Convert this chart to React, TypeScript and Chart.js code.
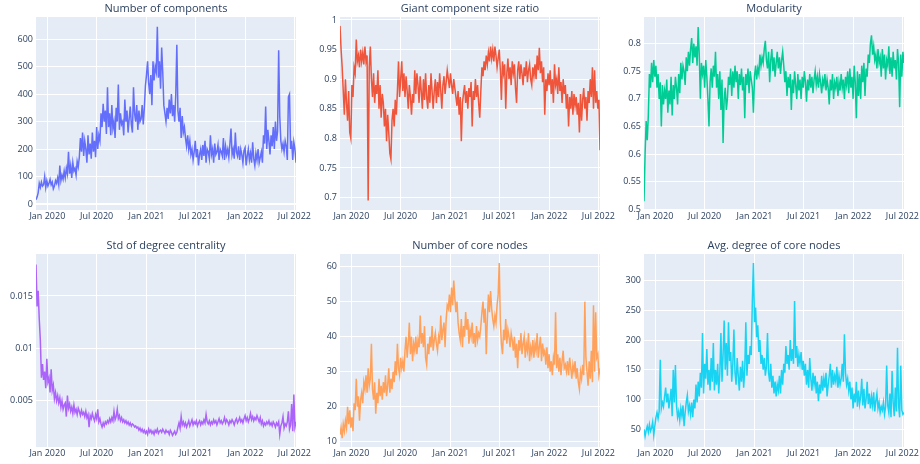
import React, { useEffect, useRef } from "react";
import { Chart, registerables } from "chart.js";

Chart.register(...registerables);

// x positions: days counted from 1 Jan 2020; one sample every 4 days from 20 Nov 2019
const START_DAY = -42;
const STEP_DAYS = 4;
const X_MIN = -42;
const X_MAX = 918;
const xTickDays = [0, 182, 366, 547, 731, 912];
const xTickLabels = ["Jan 2020", "Jul 2020", "Jan 2021", "Jul 2021", "Jan 2022", "Jul 2022"];

const numComponents = [
  15, 25, 40, 75, 60, 80, 65, 70, 100, 60,
  85, 65, 75, 90, 70, 80, 55, 65, 85, 75,
  95, 70, 140, 85, 105, 90, 120, 95, 130, 110,
  190, 110, 140, 95, 150, 120, 130, 105, 155, 135,
  170, 240, 190, 260, 175, 230, 200, 150, 250, 180,
  220, 165, 260, 190, 230, 170, 280, 200, 250, 230,
  330, 280, 365, 300, 340, 255, 425, 280, 330, 250,
  360, 275, 300, 240, 350, 300, 435, 270, 330, 290,
  300, 250, 380, 300, 340, 260, 310, 355, 290, 260,
  425, 330, 300, 360, 270, 340, 300, 310, 360, 290,
  350, 430, 470, 520, 440, 400, 470, 360, 520, 450,
  500, 480, 645, 460, 520, 420, 570, 480, 360, 330,
  300, 350, 310, 380, 330, 400, 320, 360, 300, 395,
  580, 340, 300, 350, 240, 320, 260, 280, 240, 210,
  250, 200, 230, 180, 200, 160, 190, 230, 170, 200,
  140, 180, 200, 160, 215, 175, 230, 150, 200, 190,
  165, 250, 180, 200, 150, 220, 180, 190, 215, 160,
  200, 190, 175, 240, 160, 210, 180, 200, 170, 220,
  275, 180, 200, 165, 260, 190, 175, 210, 160, 200,
  180, 150, 195, 205, 140, 175, 200, 160, 185, 150,
  225, 165, 140, 185, 160, 200, 150, 170, 190, 150,
  250, 220, 355, 200, 270, 230, 180, 250, 210, 280,
  200, 300, 230, 265, 560, 320, 230, 200, 220, 190,
  230, 210, 160, 390, 400, 200, 230, 160, 225, 200,
  150,
];

const giantRatio = [
  0.99, 0.95, 0.92, 0.88, 0.84, 0.90, 0.86, 0.83, 0.88, 0.81,
  0.80, 0.89, 0.87, 0.92, 0.91, 0.967, 0.93, 0.94, 0.92, 0.95,
  0.93, 0.945, 0.925, 0.955, 0.93, 0.94, 0.695, 0.92, 0.955, 0.90,
  0.87, 0.91, 0.86, 0.89, 0.875, 0.915, 0.85, 0.89, 0.835, 0.875,
  0.86, 0.82, 0.85, 0.795, 0.84, 0.81, 0.775, 0.765, 0.83, 0.85,
  0.82, 0.865, 0.84, 0.88, 0.93, 0.87, 0.90, 0.93, 0.88, 0.91,
  0.87, 0.905, 0.88, 0.85, 0.89, 0.87, 0.84, 0.875, 0.86, 0.915,
  0.875, 0.91, 0.89, 0.86, 0.905, 0.88, 0.85, 0.90, 0.865, 0.91,
  0.87, 0.85, 0.89, 0.86, 0.91, 0.88, 0.85, 0.88, 0.90, 0.86,
  0.895, 0.87, 0.91, 0.88, 0.85, 0.89, 0.905, 0.875, 0.895, 0.915,
  0.90, 0.885, 0.91, 0.89, 0.875, 0.90, 0.885, 0.87, 0.855, 0.88,
  0.84, 0.87, 0.795, 0.86, 0.875, 0.89, 0.86, 0.88, 0.85, 0.885,
  0.87, 0.895, 0.82, 0.88, 0.865, 0.90, 0.87, 0.89, 0.86, 0.835,
  0.88, 0.92, 0.905, 0.93, 0.915, 0.94, 0.925, 0.945, 0.93, 0.955,
  0.935, 0.95, 0.93, 0.955, 0.94, 0.92, 0.935, 0.95, 0.915, 0.865,
  0.93, 0.91, 0.925, 0.85, 0.91, 0.935, 0.90, 0.92, 0.89, 0.93,
  0.91, 0.925, 0.885, 0.86, 0.915, 0.93, 0.90, 0.925, 0.91, 0.89,
  0.92, 0.905, 0.93, 0.895, 0.915, 0.925, 0.90, 0.89, 0.92, 0.905,
  0.925, 0.90, 0.94, 0.915, 0.953, 0.91, 0.93, 0.895, 0.92, 0.84,
  0.90, 0.88, 0.91, 0.89, 0.915, 0.875, 0.90, 0.86, 0.925, 0.89,
  0.90, 0.875, 0.92, 0.88, 0.895, 0.86, 0.90, 0.875, 0.89, 0.85,
  0.875, 0.82, 0.87, 0.85, 0.88, 0.84, 0.875, 0.855, 0.87, 0.84,
  0.86, 0.81, 0.875, 0.83, 0.865, 0.885, 0.85, 0.87, 0.83, 0.88,
  0.86, 0.90, 0.87, 0.92, 0.85, 0.915, 0.86, 0.88, 0.85, 0.865,
  0.78,
];

const modularity = [
  0.515, 0.60, 0.66, 0.625, 0.67, 0.745, 0.72, 0.765, 0.73, 0.77,
  0.74, 0.76, 0.72, 0.745, 0.70, 0.73, 0.65, 0.725, 0.69, 0.715,
  0.70, 0.735, 0.675, 0.715, 0.69, 0.74, 0.67, 0.725, 0.70, 0.74,
  0.72, 0.69, 0.745, 0.71, 0.765, 0.735, 0.76, 0.75, 0.725, 0.775,
  0.75, 0.785, 0.76, 0.79, 0.81, 0.765, 0.80, 0.775, 0.795, 0.76,
  0.83, 0.78, 0.70, 0.765, 0.745, 0.76, 0.72, 0.77, 0.74, 0.70,
  0.65, 0.73, 0.755, 0.72, 0.76, 0.74, 0.785, 0.72, 0.745, 0.70,
  0.75, 0.68, 0.735, 0.62, 0.70, 0.72, 0.68, 0.70, 0.74, 0.725,
  0.755, 0.705, 0.75, 0.72, 0.76, 0.73, 0.75, 0.70, 0.745, 0.725,
  0.755, 0.715, 0.74, 0.665, 0.745, 0.725, 0.755, 0.71, 0.75, 0.735,
  0.72, 0.675, 0.74, 0.76, 0.735, 0.755, 0.745, 0.78, 0.76, 0.775,
  0.765, 0.79, 0.805, 0.77, 0.755, 0.785, 0.73, 0.77, 0.79, 0.75,
  0.775, 0.74, 0.765, 0.785, 0.755, 0.775, 0.745, 0.77, 0.785, 0.76,
  0.73, 0.75, 0.705, 0.74, 0.72, 0.745, 0.68, 0.735, 0.71, 0.75,
  0.725, 0.70, 0.745, 0.715, 0.735, 0.70, 0.74, 0.72, 0.75, 0.73,
  0.695, 0.735, 0.715, 0.745, 0.72, 0.74, 0.71, 0.735, 0.75, 0.725,
  0.74, 0.72, 0.745, 0.73, 0.71, 0.735, 0.725, 0.745, 0.715, 0.735,
  0.72, 0.69, 0.735, 0.715, 0.745, 0.70, 0.73, 0.72, 0.74, 0.705,
  0.73, 0.715, 0.745, 0.72, 0.735, 0.70, 0.74, 0.725, 0.75, 0.71,
  0.755, 0.72, 0.74, 0.70, 0.76, 0.73, 0.665, 0.75, 0.705, 0.745,
  0.70, 0.76, 0.73, 0.765, 0.705, 0.755, 0.74, 0.78, 0.765, 0.80,
  0.815, 0.78, 0.795, 0.77, 0.78, 0.755, 0.79, 0.765, 0.775, 0.74,
  0.79, 0.755, 0.78, 0.735, 0.77, 0.76, 0.795, 0.745, 0.775, 0.74,
  0.785, 0.755, 0.77, 0.735, 0.79, 0.765, 0.685, 0.78, 0.74, 0.785,
  0.765,
];

const stdDegree = [
  0.0180, 0.0140, 0.0155, 0.0128, 0.0108, 0.0072, 0.0085, 0.0070, 0.0078, 0.0062,
  0.0090, 0.0068, 0.0072, 0.0058, 0.0080, 0.0060, 0.0065, 0.0052, 0.0058, 0.0050,
  0.0055, 0.0048, 0.0053, 0.0044, 0.0050, 0.0042, 0.0046, 0.0048, 0.0035, 0.0055,
  0.0043, 0.0047, 0.0040, 0.0044, 0.0038, 0.0046, 0.0039, 0.0042, 0.0037, 0.0043,
  0.0040, 0.0036, 0.0041, 0.0037, 0.0039, 0.0035, 0.0040, 0.0034, 0.0037, 0.0025,
  0.0036, 0.0033, 0.0038, 0.0034, 0.0031, 0.0037, 0.0033, 0.0042, 0.0030, 0.0033,
  0.0028, 0.0025, 0.0029, 0.0026, 0.0030, 0.0028, 0.0031, 0.0029, 0.0033, 0.0030,
  0.0034, 0.0031, 0.0040, 0.0032, 0.0035, 0.0042, 0.0033, 0.0036, 0.0031, 0.0034,
  0.0030, 0.0032, 0.0029, 0.0031, 0.0028, 0.0030, 0.0027, 0.0029, 0.0026, 0.0028,
  0.0027, 0.0025, 0.0026, 0.0024, 0.0025, 0.0022, 0.0024, 0.0021, 0.0023, 0.0020,
  0.0022, 0.0019, 0.0021, 0.0018, 0.0023, 0.0020, 0.0022, 0.0019, 0.0021, 0.0018,
  0.0022, 0.0020, 0.0023, 0.0019, 0.0021, 0.0022, 0.0020, 0.0023, 0.0021, 0.0019,
  0.0022, 0.0020, 0.0021, 0.0018, 0.0022, 0.0020, 0.0017, 0.0019, 0.0021, 0.0018,
  0.0020, 0.0025, 0.0029, 0.0024, 0.0035, 0.0027, 0.0030, 0.0026, 0.0029, 0.0025,
  0.0028, 0.0031, 0.0026, 0.0029, 0.0032, 0.0027, 0.0030, 0.0028, 0.0031, 0.0026,
  0.0029, 0.0031, 0.0027, 0.0030, 0.0028, 0.0032, 0.0029, 0.0037, 0.0030, 0.0028,
  0.0031, 0.0027, 0.0030, 0.0028, 0.0032, 0.0029, 0.0031, 0.0027, 0.0030, 0.0033,
  0.0029, 0.0031, 0.0028, 0.0030, 0.0034, 0.0029, 0.0032, 0.0030, 0.0027, 0.0031,
  0.0029, 0.0032, 0.0030, 0.0027, 0.0031, 0.0033, 0.0029, 0.0031, 0.0034, 0.0030,
  0.0032, 0.0029, 0.0033, 0.0036, 0.0031, 0.0034, 0.0030, 0.0033, 0.0038, 0.0032,
  0.0035, 0.0031, 0.0034, 0.0032, 0.0036, 0.0033, 0.0030, 0.0034, 0.0028, 0.0031,
  0.0026, 0.0029, 0.0027, 0.0030, 0.0028, 0.0031, 0.0027, 0.0029, 0.0026, 0.0030,
  0.0028, 0.0025, 0.0029, 0.0027, 0.0030, 0.0018, 0.0026, 0.0029, 0.0035, 0.0024,
  0.0028, 0.0026, 0.0030, 0.0040, 0.0023, 0.0027, 0.0047, 0.0021, 0.0056, 0.0025,
  0.0030,
];

const coreNodes = [
  12, 14, 11, 15, 13, 16, 14, 20, 15, 19,
  14, 17, 13, 21, 19, 28, 20, 23, 16, 22,
  24, 21, 27, 25, 29, 24, 31, 26, 28, 38,
  25, 22, 27, 18, 24, 21, 28, 23, 26, 22,
  27, 24, 29, 23, 26, 31, 24, 28, 25, 30,
  27, 33, 29, 38, 31, 29, 34, 31, 33, 30,
  36, 40, 34, 38, 44, 35, 40, 33, 38, 36,
  40, 35, 39, 37, 46, 38, 41, 37, 43, 34,
  32, 38, 35, 40, 37, 43, 36, 39, 41, 38,
  36, 40, 38, 46, 39, 42, 44, 37, 45, 49,
  48, 52, 47, 54, 49, 56, 51, 47, 50, 44,
  41, 39, 45, 37, 43, 40, 47, 42, 45, 38,
  42, 40, 44, 38, 41, 37, 43, 39, 41, 40,
  43, 47, 50, 44, 48, 35, 45, 52, 47, 53,
  48, 45, 43, 46, 44, 49, 52, 61, 44, 38,
  35, 42, 39, 45, 38, 42, 40, 37, 41, 39,
  36, 40, 34, 38, 31, 39, 36, 41, 35, 38,
  40, 34, 38, 36, 41, 33, 37, 35, 39, 34,
  38, 36, 41, 34, 37, 40, 33, 38, 35, 36,
  32, 37, 31, 35, 30, 33, 29, 34, 32, 47,
  31, 35, 30, 34, 29, 33, 36, 31, 32, 30,
  33, 29, 34, 31, 28, 32, 30, 33, 28, 31,
  27, 25, 30, 28, 32, 29, 50, 34, 30, 26,
  33, 28, 36, 27, 49, 30, 47, 34, 35, 29,
  31,
];

const coreDegree = [
  50, 38, 48, 55, 45, 58, 47, 52, 62, 40,
  55, 70, 78, 68, 80, 167, 85, 95, 88, 105,
  120, 95, 110, 85, 100, 118, 72, 150, 95, 158,
  90, 70, 80, 65, 85, 72, 90, 55, 78, 95,
  107, 80, 90, 75, 95, 70, 100, 85, 125, 95,
  130, 105, 145, 120, 212, 110, 160, 135, 185, 125,
  150, 115, 170, 130, 195, 115, 150, 125, 160, 110,
  145, 212, 130, 175, 233, 150, 195, 140, 230, 165,
  180, 130, 160, 218, 145, 125, 170, 140, 115, 155,
  130, 165, 120, 150, 230, 140, 175, 160, 190, 175,
  265, 330, 230, 255, 205, 225, 180, 200, 160, 175,
  150, 170, 140, 155, 212, 145, 130, 160, 120, 140,
  110, 130, 105, 125, 115, 140, 110, 150, 125, 160,
  145, 190, 160, 175, 150, 200, 165, 185, 160, 266,
  170, 190, 155, 175, 160, 180, 150, 165, 140, 160,
  125, 150, 120, 170, 135, 115, 145, 125, 140, 110,
  130, 97, 125, 110, 140, 115, 135, 120, 145, 105,
  125, 140, 160, 120, 150, 125, 140, 130, 155, 120,
  140, 125, 135, 160, 130, 210, 145, 125, 135, 115,
  130, 100, 120, 85, 110, 95, 130, 88, 115, 92,
  105, 135, 90, 118, 85, 100, 130, 92, 110, 85,
  105, 90, 112, 80, 98, 110, 85, 95, 78, 88,
  82, 95, 75, 88, 157, 90, 78, 110, 70, 148,
  95, 72, 120, 80, 187, 90, 70, 157, 82, 75,
  78,
];

const ticksComponents = [0, 100, 200, 300, 400, 500, 600];
const labelsComponents = ["0", "100", "200", "300", "400", "500", "600"];
const ticksGiant = [0.7, 0.75, 0.8, 0.85, 0.9, 0.95, 1];
const labelsGiant = ["0.7", "0.75", "0.8", "0.85", "0.9", "0.95", "1"];
const ticksModularity = [0.5, 0.55, 0.6, 0.65, 0.7, 0.75, 0.8];
const labelsModularity = ["0.5", "0.55", "0.6", "0.65", "0.7", "0.75", "0.8"];
const ticksStd = [0.005, 0.01, 0.015];
const labelsStd = ["0.005", "0.01", "0.015"];
const ticksCoreNodes = [10, 20, 30, 40, 50, 60];
const labelsCoreNodes = ["10", "20", "30", "40", "50", "60"];
const ticksCoreDegree = [50, 100, 150, 200, 250, 300];
const labelsCoreDegree = ["50", "100", "150", "200", "250", "300"];

type Panel = {
  title: string;
  values: number[];
  color: string;
  yTicks: number[];
  yLabels: string[];
  yMin: number;
  yMax: number;
  left: number;
  top: number;
};

const panels: Panel[] = [
  { title: "Number of components", values: numComponents, color: "#636efa", yTicks: ticksComponents, yLabels: labelsComponents, yMin: -22, yMax: 681, left: 0, top: 0 },
  { title: "Giant component size ratio", values: giantRatio, color: "#EF553B", yTicks: ticksGiant, yLabels: labelsGiant, yMin: 0.679, yMax: 1.005, left: 304, top: 0 },
  { title: "Modularity", values: modularity, color: "#00cc96", yTicks: ticksModularity, yLabels: labelsModularity, yMin: 0.499, yMax: 0.848, left: 608, top: 0 },
  { title: "Std of degree centrality", values: stdDegree, color: "#ab63fa", yTicks: ticksStd, yLabels: labelsStd, yMin: 0.0006, yMax: 0.019, left: 0, top: 237 },
  { title: "Number of core nodes", values: coreNodes, color: "#FFA15A", yTicks: ticksCoreNodes, yLabels: labelsCoreNodes, yMin: 8.5, yMax: 63.6, left: 304, top: 237 },
  { title: "Avg. degree of core nodes", values: coreDegree, color: "#19d3f3", yTicks: ticksCoreDegree, yLabels: labelsCoreDegree, yMin: 20, yMax: 345, left: 608, top: 237 },
];

const CANVAS_W = 318;
const CANVAS_H = 230;
const FONT = "'Open Sans', 'Noto Sans', sans-serif";
const TEXT_COLOR = "#2a3f5f";

const bgPlugin = {
  id: "plotbg",
  beforeDraw(chart: any) {
    const { ctx, chartArea } = chart;
    if (!chartArea) return;
    ctx.save();
    ctx.fillStyle = "#E5ECF6";
    ctx.fillRect(chartArea.left, chartArea.top, chartArea.right - chartArea.left, chartArea.bottom - chartArea.top);
    ctx.restore();
  },
};

const titlePlugin = {
  id: "paneltitle",
  afterDraw(chart: any, _args: any, opts: any) {
    const { ctx, chartArea } = chart;
    ctx.save();
    ctx.font = `11px ${FONT}`;
    ctx.fillStyle = TEXT_COLOR;
    ctx.textAlign = "center";
    ctx.textBaseline = "middle";
    ctx.fillText(opts.text, (chartArea.left + chartArea.right) / 2, chartArea.top - 8);
    ctx.restore();
  },
};

function PanelChart({ panel }: { panel: Panel }) {
  const ref = useRef<HTMLCanvasElement>(null);
  useEffect(() => {
    const canvas = ref.current;
    if (!canvas) return;
    const points = panel.values.map((v, i) => ({ x: START_DAY + i * STEP_DAYS, y: v }));
    const chart = new Chart(canvas, {
      type: "line",
      data: {
        datasets: [
          {
            data: points,
            borderColor: panel.color,
            borderWidth: 1.5,
            pointRadius: 0,
            tension: 0,
            fill: false,
          },
        ],
      },
      options: {
        animation: false,
        responsive: false,
        maintainAspectRatio: false,
        events: [],
        layout: { padding: { top: 17, right: 22, bottom: 0, left: 0 } },
        plugins: {
          legend: { display: false },
          tooltip: { enabled: false },
          paneltitle: { text: panel.title },
        } as any,
        scales: {
          x: {
            type: "linear",
            min: X_MIN,
            max: X_MAX,
            afterBuildTicks: (scale: any) => {
              scale.ticks = xTickDays.map((d) => ({ value: d }));
            },
            afterFit: (scale: any) => {
              scale.height = 20;
            },
            ticks: {
              autoSkip: false,
              maxRotation: 0,
              padding: 1,
              color: TEXT_COLOR,
              font: { family: FONT, size: 9 },
              callback: (value: any, index: number) => xTickLabels[index] ?? "",
            },
            grid: { color: "#ffffff", lineWidth: 1, drawTicks: false },
            border: { display: false },
          },
          y: {
            type: "linear",
            min: panel.yMin,
            max: panel.yMax,
            afterBuildTicks: (scale: any) => {
              scale.ticks = panel.yTicks.map((v) => ({ value: v }));
            },
            afterFit: (scale: any) => {
              scale.width = 36;
            },
            ticks: {
              autoSkip: false,
              padding: 3,
              color: TEXT_COLOR,
              font: { family: FONT, size: 9 },
              callback: (value: any, index: number) => panel.yLabels[index] ?? "",
            },
            grid: {
              color: "#ffffff",
              lineWidth: (ctx: any) => (ctx.tick && ctx.tick.value === 0 ? 2 : 1),
              drawTicks: false,
            },
            border: { display: false },
          },
        },
      },
      plugins: [bgPlugin, titlePlugin],
    });
    return () => chart.destroy();
  }, [panel]);
  return (
    <canvas
      ref={ref}
      width={CANVAS_W}
      height={CANVAS_H}
      style={{ position: "absolute", left: panel.left, top: panel.top, width: CANVAS_W, height: CANVAS_H }}
    />
  );
}

export default function App() {
  return (
    <div
      style={{
        position: "fixed",
        left: 0,
        top: 0,
        width: 920,
        height: 464,
        overflow: "hidden",
        background: "#ffffff",
      }}
    >
      {panels.map((p) => (
        <PanelChart key={p.title} panel={p} />
      ))}
    </div>
  );
}
